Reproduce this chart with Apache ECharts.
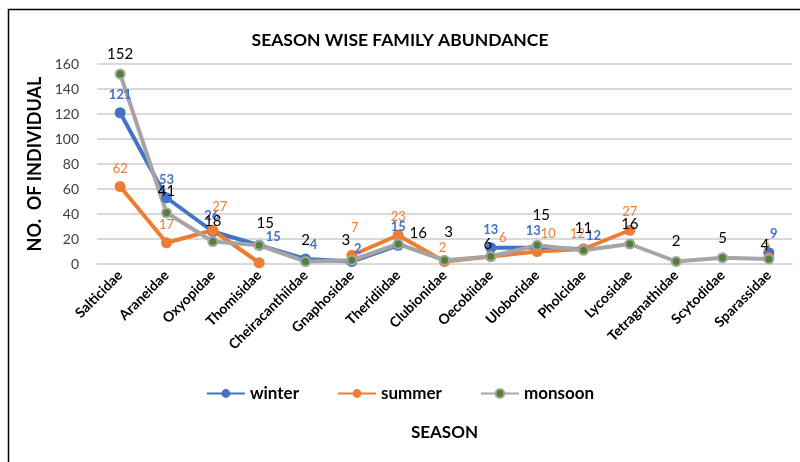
<!DOCTYPE html>
<html>
<head>
<meta charset="utf-8">
<script src="https://cdn.jsdelivr.net/npm/echarts@6/dist/echarts.min.js"></script>
<style>html,body{margin:0;padding:0;background:#fff}#c{width:800px;height:462px}</style>
</head>
<body>
<div id="c"></div>
<script>
const categories = ['Salticidae','Araneidae','Oxyopidae','Thomisidae','Cheiracanthiidae','Gnaphosidae','Theridiidae','Clubionidae','Oecobiidae','Uloboridae','Pholcidae','Lycosidae','Tetragnathidae','Scytodidae','Sparassidae'];
const winter  = [121, 53, 26, 15, 4, 2, 15, null, 13, 13, 12, null, null, null, 9];
const summer  = [62, 17, 27, 1, null, 7, 23, 2, 6, 10, 12, 27, null, null, 5];
const monsoon = [152, 41, 18, 15, 2, 3, 16, 3, 6, 15, 11, 16, 2, 5, 4];
const yTicks = {min: 0, max: 160, interval: 20};
const seriesNames = ['winter', 'summer', 'monsoon'];

// label offsets [dx, dy] relative to the default 'top' position (layout only)
const winterOff  = [[0,0],[0,0],[-1,2],[14,10],[8,4],[6,5],[0,0],[0,0],[0,0],[-4,1],[10,5],[0,0],[0,0],[0,0],[5,-1]];
const summerOff  = [[0,0],[0,0],[7,-5],[0,0],[0,0],[3,-9],[0,0],[-2,4],[12,-1],[11,0],[-6,3],[0,0],[0,0],[0,0],[-2,5]];
const monsoonOff = [[0,0],[0,-2],[0,0],[6,-2],[0,-1],[-6,0],[20,9],[4,-8],[-3,8],[4,-10],[0,-2],[0,0],[0,0],[0,0],[-4,6]];
const hideLabel = {summer: [3]};

function build(vals, offs, name) {
  return vals.map((v, i) => {
    if (v === null) return null;
    const item = {value: v, label: {offset: offs[i]}};
    if (hideLabel[name] && hideLabel[name].includes(i)) item.label.show = false;
    return item;
  });
}

const chart = echarts.init(document.getElementById('c'), null, {renderer: 'canvas'});
const FONT = 'Lato';
chart.setOption({
  animation: false,
  backgroundColor: '#fff',
  textStyle: {fontFamily: FONT},
  graphic: [{type: 'rect', shape: {x: 8.5, y: 9.5, width: 820, height: 480}, style: {fill: 'none', stroke: '#000', lineWidth: 1.5}, silent: true}],
  title: {text: 'SEASON WISE FAMILY ABUNDANCE', left: 'center', top: 26, textStyle: {fontFamily: FONT, fontSize: 17.5, fontWeight: 'bold', color: '#000'}},
  legend: {
    data: seriesNames, left: 'center', top: 380, itemWidth: 38, itemHeight: 11, itemGap: 38,
    textStyle: {fontFamily: FONT, fontSize: 17, fontWeight: 'bold', color: '#000'}
  },
  grid: {left: 97, right: 8, top: 64, bottom: 198, containLabel: false},
  xAxis: {
    type: 'category', data: categories, boundaryGap: true,
    name: 'SEASON', nameLocation: 'middle', nameGap: 160,
    nameTextStyle: {fontFamily: FONT, fontSize: 17, fontWeight: 'bold', color: '#000'},
    axisLine: {show: true, lineStyle: {color: '#d9d9d9', width: 2}},
    axisTick: {show: false},
    axisLabel: {rotate: 45, interval: 0, margin: 9, fontFamily: FONT, fontSize: 14, fontWeight: 'bold', color: '#000'}
  },
  yAxis: {
    type: 'value', min: yTicks.min, max: yTicks.max, interval: yTicks.interval,
    name: 'NO.  OF INDIVIDUAL', nameLocation: 'middle', nameGap: 42,
    nameTextStyle: {fontFamily: FONT, fontSize: 18, fontWeight: 'bold', color: '#000'},
    axisLine: {show: false}, axisTick: {show: false},
    axisLabel: {fontFamily: FONT, fontSize: 14, color: '#404040', margin: 18},
    splitLine: {lineStyle: {color: '#d9d9d9', width: 2}}
  },
  series: [
    {
      name: 'winter', type: 'line', data: build(winter, winterOff, 'winter'),
      symbol: 'circle', symbolSize: 11, showAllSymbol: true,
      lineStyle: {color: '#4472C4', width: 4}, itemStyle: {color: '#4472C4'},
      label: {show: true, position: 'top', distance: 6, color: '#4472C4', fontWeight: 'bold', fontSize: 13, fontFamily: FONT}
    },
    {
      name: 'summer', type: 'line', data: build(summer, summerOff, 'summer'),
      symbol: 'circle', symbolSize: 11, showAllSymbol: true,
      lineStyle: {color: '#ED7D31', width: 4}, itemStyle: {color: '#ED7D31'},
      label: {show: true, position: 'top', distance: 6, color: '#ED7D31', fontSize: 13, fontFamily: FONT}
    },
    {
      name: 'monsoon', type: 'line', data: build(monsoon, monsoonOff, 'monsoon'),
      symbol: 'circle', symbolSize: 9, showAllSymbol: true,
      lineStyle: {color: '#A5A5A5', width: 4},
      itemStyle: {color: '#548235', borderColor: '#A5A5A5', borderWidth: 2},
      label: {show: true, position: 'top', distance: 7, color: '#000', fontSize: 15, fontFamily: FONT}
    }
  ]
});
</script>
</body>
</html>
